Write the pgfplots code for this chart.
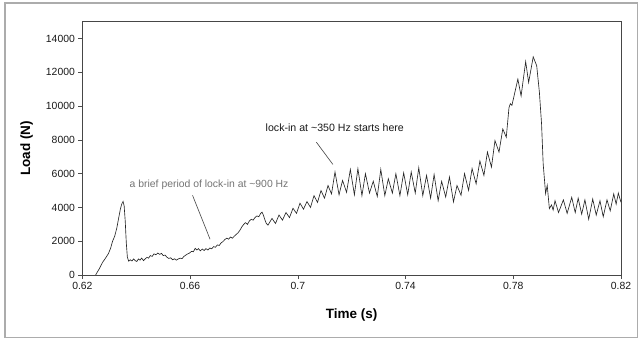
\documentclass[border=0pt]{standalone}
\usepackage{pgfplots}
\pgfplotsset{compat=1.18}
\usepackage{fontspec}
\setmainfont{Liberation Sans}

% Load history of the specimen during the run (time in s, load in N)
\begin{document}
\begin{tikzpicture}
\useasboundingbox (-82.4bp,-65bp) rectangle (560.6bp,275bp);
\draw[gray!65, line width=1.1bp] (-77.4bp,-62.5bp) rectangle (555.1bp,272bp);
\begin{axis}[
  scale only axis,
  width=538.6bp, height=253.3bp,
  at={(0,0)}, anchor=south west,
  xmin=0.62, xmax=0.82, ymin=0, ymax=15000,
  xtick={0.62,0.66,0.70,0.74,0.78,0.82},
  xticklabels={0.62,0.66,0.7,0.74,0.78,0.82},
  ytick={0,2000,4000,6000,8000,10000,12000,14000},
  yticklabels={0,2000,4000,6000,8000,10000,12000,14000},
  scaled x ticks=false, scaled y ticks=false,
  tick align=outside,
  xtick pos=left, ytick pos=left,
  major tick length=4bp,
  tick style={gray!60!black, line width=0.6bp},
  axis line style={gray!55!black, line width=0.8bp},
  ticklabel style={font=\fontsize{10.4bp}{12bp}\selectfont, text=black!90},
  xlabel={Time (s)}, ylabel={Load (N)},
  label style={font=\fontsize{13.5bp}{15bp}\selectfont\bfseries},
  xlabel style={at={(axis description cs:0.5,-0.158)}, anchor=center},
  ylabel style={at={(axis description cs:-0.1036,0.5)}, anchor=center},
]
\addplot[black!85, line width=0.65bp] coordinates {
(0.6249,0) (0.6262,350) (0.6275,750) (0.6288,1050) (0.6297,1280) (0.6305,1600)
(0.6312,2000) (0.6320,2300) (0.6328,2800) (0.6335,3400) (0.6341,3900) (0.6346,4200)
(0.6351,4360) (0.6355,4100) (0.6359,3200) (0.6363,1900) (0.6367,1050) (0.6372,820)
(0.6378,900) (0.6384,830) (0.6390,950) (0.6396,850) (0.6402,800) (0.6408,950)
(0.6414,880) (0.6420,1000) (0.6427,850) (0.6433,950) (0.6440,1050) (0.6446,1000)
(0.6452,1150) (0.6459,1100) (0.6466,1250) (0.6473,1200) (0.6480,1300) (0.6487,1220)
(0.6494,1280) (0.6500,1150) (0.6507,1180) (0.6514,1050) (0.6521,980) (0.6528,1020)
(0.6535,900) (0.6542,960) (0.6549,880) (0.6556,950) (0.6563,1000) (0.6570,970)
(0.6577,1100) (0.6584,1180) (0.6591,1250) (0.6598,1300) (0.6605,1400) (0.6612,1380)
(0.6619,1580) (0.6625,1480) (0.6631,1560) (0.6638,1430) (0.6645,1540) (0.6652,1450)
(0.6659,1560) (0.6666,1480) (0.6673,1600) (0.6680,1550) (0.6687,1680) (0.6694,1640)
(0.6701,1780) (0.6708,1750) (0.6715,1900) (0.6722,1980) (0.6729,2100) (0.6736,2180)
(0.6743,2120) (0.6750,2250) (0.6757,2180) (0.6764,2300) (0.6771,2400) (0.6778,2500)
(0.6785,2650) (0.6792,2850) (0.6799,3000) (0.6806,3100) (0.6813,3000) (0.6820,3200)
(0.6827,3300) (0.6834,3250) (0.6841,3400) (0.6848,3500) (0.6855,3450) (0.6862,3650)
(0.6867,3720) (0.6872,3550) (0.6877,3300) (0.6883,3050) (0.6889,2950)
(0.6904,3350) (0.6917,3050) (0.6930,3550) (0.6943,3250) (0.6956,3700) (0.6969,3400)
(0.6982,3950) (0.6995,3650) (0.7008,4250) (0.7021,3900) (0.7034,4350) (0.7047,4000)
(0.7060,4700) (0.7073,4300) (0.7086,5000) (0.7099,4550) (0.7112,5300) (0.7125,4800)
(0.7138,6100) (0.7153,4750) (0.7166,5600) (0.7181,4900) (0.7195,6250) (0.7210,4750)
(0.7223,6300) (0.7238,4700) (0.7251,6000) (0.7266,4850) (0.7280,5550) (0.7295,4650)
(0.7308,6250) (0.7323,4700) (0.7336,5700) (0.7351,4850) (0.7364,6000) (0.7379,4700)
(0.7393,6050) (0.7408,4750) (0.7421,6100) (0.7436,4850) (0.7449,6350) (0.7464,4700)
(0.7478,5900) (0.7493,4550) (0.7506,5950) (0.7521,4400) (0.7534,5550) (0.7549,4620)
(0.7563,5800) (0.7578,4330) (0.7591,5300) (0.7606,4720) (0.7619,6000) (0.7634,5010)
(0.7647,6300) (0.7662,5400) (0.7676,6750) (0.7691,5900) (0.7704,7280) (0.7719,6390)
(0.7732,7960) (0.7747,7280) (0.7761,8650) (0.7774,8160) (0.7784,9900) (0.7789,10150)
(0.7795,10050) (0.7817,11600) (0.7829,10600) (0.7846,12640) (0.7857,11400) (0.7874,12920)
(0.7887,12390) (0.7897,10810) (0.7905,8950) (0.7911,6590) (0.7920,4820) (0.7926,5310)
(0.7934,3930) (0.7942,4150) (0.7948,3850) (0.7955,4400) (0.7968,3700) (0.7986,4450)
(0.8000,3650) (0.8017,4600) (0.8030,3700) (0.8041,4550) (0.8054,3600) (0.8066,4450)
(0.8080,3300) (0.8095,4500) (0.8108,3550) (0.8122,4400) (0.8134,3450) (0.8148,4450)
(0.8160,3800) (0.8173,4800) (0.8182,4200) (0.8190,4850) (0.8200,4300)
};
% annotations
\node[anchor=west, inner sep=0pt, text=black!55, font=\fontsize{10.4bp}{12bp}\selectfont]
  at (axis cs:0.6375,5370) {a brief period of lock-in at \textasciitilde900 Hz};
\draw[black!75, line width=0.6bp] (axis cs:0.6609,4720) -- (axis cs:0.6674,2120);
\node[anchor=west, inner sep=0pt, text=black!90, font=\fontsize{10.6bp}{12bp}\selectfont]
  at (axis cs:0.6880,8730) {lock-in at \textasciitilde350 Hz starts here};
\draw[black!75, line width=0.6bp] (axis cs:0.7069,7860) -- (axis cs:0.7130,6550);
\end{axis}
\end{tikzpicture}
\end{document}
